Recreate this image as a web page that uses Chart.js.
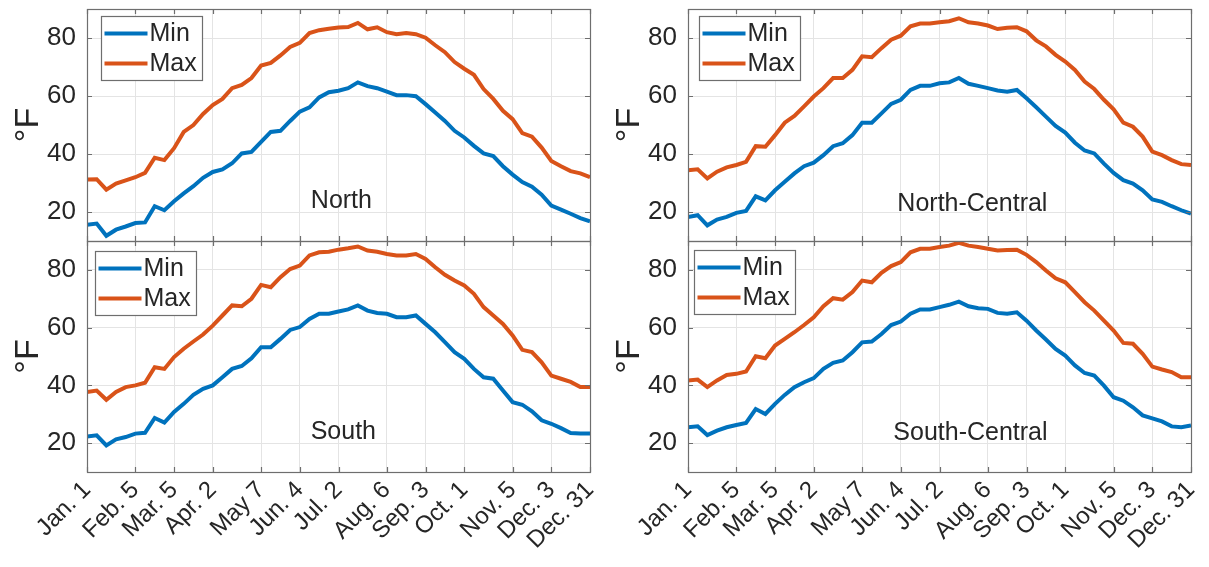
<!DOCTYPE html>
<html>
<head>
<meta charset="utf-8">
<script src="https://cdn.jsdelivr.net/npm/chart.js@4.4.7/dist/chart.umd.min.js"></script>
<style>
  html, body { margin: 0; padding: 0; background: #fff; }
  #wrap { position: relative; width: 1209px; height: 567px; overflow: hidden; }
  .panel { position: absolute; }
</style>
</head>
<body>
<div id="wrap">
  <div class="panel" style="left:0;top:0"><canvas id="cNorth" width="600" height="250"></canvas></div>
  <div class="panel" style="left:601px;top:0"><canvas id="cNorthCentral" width="600" height="250"></canvas></div>
  <div class="panel" style="left:0;top:232px"><canvas id="cSouth" width="600" height="335"></canvas></div>
  <div class="panel" style="left:601px;top:232px"><canvas id="cSouthCentral" width="600" height="335"></canvas></div>
</div>
<script>
// x ticks: week index (0 = Jan. 1, 52 = Dec. 31) and their labels
var tickWeeks = [0, 5, 9, 13, 18, 22, 26, 31, 35, 39, 44, 48, 52];
var tickLabels = ["Jan. 1", "Feb. 5", "Mar. 5", "Apr. 2", "May 7", "Jun. 4", "Jul. 2", "Aug. 6", "Sep. 3", "Oct. 1", "Nov. 5", "Dec. 3", "Dec. 31"];
var yTicks = [20, 40, 60, 80];
var seriesNames = ["Min", "Max"];

// weekly temperatures (°F), 53 weeks
var northMin = [15.6, 16.0, 11.8, 13.9, 15.0, 16.2, 16.4, 22.0, 20.6, 23.7, 26.4, 28.9, 31.8, 33.8, 34.7, 36.8, 40.2, 40.7, 44.2, 47.6, 48.0, 51.4, 54.6, 56.1, 59.5, 61.3, 61.8, 62.7, 64.7, 63.4, 62.7, 61.5, 60.3, 60.3, 59.9, 57.2, 54.3, 51.4, 48.0, 45.7, 42.8, 40.2, 39.3, 35.8, 32.9, 30.3, 28.7, 26.0, 22.2, 20.8, 19.4, 17.9, 16.8];
var northMax = [31.2, 31.3, 27.7, 29.8, 30.9, 32.0, 33.5, 38.7, 37.9, 42.0, 47.6, 50.0, 53.8, 56.9, 59.0, 62.7, 63.8, 66.2, 70.5, 71.4, 74.0, 76.9, 78.3, 81.7, 82.7, 83.2, 83.6, 83.8, 85.2, 83.0, 83.7, 82.0, 81.3, 81.7, 81.3, 80.1, 77.5, 75.1, 71.7, 69.4, 67.3, 62.4, 59.0, 54.9, 52.0, 47.2, 46.0, 42.2, 37.6, 35.8, 34.1, 33.3, 32.0];
var southMin = [22.3, 22.7, 19.2, 21.3, 22.1, 23.3, 23.6, 28.7, 27.1, 30.8, 33.6, 36.7, 38.8, 40.0, 42.8, 45.7, 46.7, 49.4, 53.2, 53.2, 56.1, 59.2, 60.2, 63.0, 64.8, 64.8, 65.6, 66.3, 67.7, 65.9, 65.1, 64.8, 63.6, 63.6, 64.2, 61.3, 58.4, 55.0, 51.5, 49.2, 45.7, 42.8, 42.3, 38.2, 34.2, 33.3, 31.0, 27.9, 26.7, 25.2, 23.5, 23.3, 23.3];
var southMax = [37.7, 38.2, 35.0, 37.7, 39.4, 40.0, 40.9, 46.3, 45.7, 49.8, 52.7, 55.2, 57.6, 60.7, 64.2, 67.7, 67.4, 70.0, 74.8, 74.0, 77.5, 80.3, 81.5, 85.0, 86.1, 86.3, 87.0, 87.5, 88.1, 86.7, 86.3, 85.5, 85.0, 85.0, 85.5, 83.8, 80.9, 78.3, 76.3, 74.6, 71.7, 67.1, 64.2, 61.3, 57.3, 52.3, 51.5, 48.0, 43.4, 42.3, 41.2, 39.4, 39.4];
var northCentralMin = [18.3, 18.9, 15.4, 17.4, 18.3, 19.7, 20.4, 25.4, 24.0, 27.5, 30.4, 33.3, 35.8, 37.0, 39.6, 42.7, 43.7, 46.5, 50.8, 50.8, 54.0, 57.3, 58.7, 62.1, 63.5, 63.5, 64.4, 64.7, 66.2, 64.2, 63.5, 62.7, 61.9, 61.5, 62.1, 59.2, 56.1, 52.9, 49.7, 47.4, 43.9, 41.2, 40.2, 36.7, 33.5, 31.0, 29.8, 27.5, 24.3, 23.5, 22.0, 20.6, 19.4];
var northCentralMax = [34.4, 34.7, 31.6, 33.9, 35.4, 36.2, 37.3, 42.7, 42.5, 46.5, 50.8, 53.1, 56.4, 59.8, 62.7, 66.2, 66.2, 69.0, 73.7, 73.4, 76.5, 79.4, 80.8, 84.0, 85.0, 85.0, 85.4, 85.8, 86.8, 85.4, 85.0, 84.3, 83.1, 83.5, 83.7, 82.3, 79.2, 77.1, 74.2, 71.9, 69.0, 65.0, 62.4, 58.7, 55.4, 50.8, 49.4, 46.0, 40.8, 39.6, 37.9, 36.5, 36.2];
var southCentralMin = [25.5, 25.8, 22.8, 24.3, 25.5, 26.3, 27.0, 31.8, 30.1, 33.6, 36.7, 39.4, 41.1, 42.5, 45.7, 47.8, 48.6, 51.5, 54.9, 55.2, 57.8, 60.9, 62.1, 64.8, 66.3, 66.3, 67.1, 67.9, 69.0, 67.4, 66.7, 66.5, 65.1, 64.8, 65.3, 62.4, 59.0, 55.9, 52.6, 50.3, 46.9, 44.3, 43.4, 39.9, 35.9, 34.7, 32.4, 29.6, 28.6, 27.5, 25.8, 25.5, 26.1];
var southCentralMax = [41.7, 42.0, 39.4, 41.7, 43.6, 44.0, 44.8, 50.1, 49.4, 53.8, 56.1, 58.4, 60.9, 63.6, 67.4, 70.2, 69.7, 72.3, 76.3, 75.7, 79.0, 81.3, 82.7, 86.1, 87.3, 87.3, 87.9, 88.4, 89.4, 88.4, 87.9, 87.3, 86.7, 86.9, 87.0, 85.2, 82.7, 79.8, 77.1, 75.7, 72.3, 68.8, 65.9, 62.4, 59.0, 54.7, 54.4, 50.9, 46.5, 45.5, 44.6, 42.8, 42.8];

var FONT = '"Liberation Sans", Arial, Helvetica, sans-serif';
var TXT = "#262626";
var AXIS = "#6e6e6e";
var GRID = "#e4e4e4";
var BLUE = "#0072BD";
var ORANGE = "#D95319";

function toPoints(arr) {
    return arr.map(function (v, i) { return { x: i, y: v }; });
}

// draws the MATLAB-style box, inward ticks, legend and region label
var overlay = {
    id: "overlay",
    afterDraw: function (chart, args, o) {
        var ctx = chart.ctx, a = chart.chartArea, xs = chart.scales.x, ys = chart.scales.y;
        ctx.save();
        ctx.strokeStyle = AXIS;
        ctx.lineWidth = 1.2;
        ctx.beginPath();
        xs.ticks.forEach(function (t) {
            var px = Math.round(xs.getPixelForValue(t.value)) + 0.5;
            ctx.moveTo(px, a.top); ctx.lineTo(px, a.top + 5);
            ctx.moveTo(px, a.bottom); ctx.lineTo(px, a.bottom - 5);
        });
        ys.ticks.forEach(function (t) {
            var py = Math.round(ys.getPixelForValue(t.value)) + 0.5;
            ctx.moveTo(a.left, py); ctx.lineTo(a.left + 5, py);
            ctx.moveTo(a.right, py); ctx.lineTo(a.right - 5, py);
        });
        ctx.stroke();
        ctx.strokeRect(Math.round(a.left) + 0.5, Math.round(a.top) + 0.5, Math.round(a.right - a.left), Math.round(a.bottom - a.top));

        // region name
        ctx.fillStyle = TXT;
        ctx.font = "25px " + FONT;
        ctx.textAlign = "center";
        ctx.textBaseline = "middle";
        ctx.fillText(o.name, xs.getPixelForValue(o.nameX), ys.getPixelForValue(o.nameY));

        // legend box
        var bx = Math.round(a.left + o.legDx) + 0.5, by = Math.round(a.top + o.legDy) + 0.5;
        ctx.fillStyle = "#fff";
        ctx.fillRect(bx, by, 101, 64);
        ctx.strokeStyle = AXIS;
        ctx.lineWidth = 1.2;
        ctx.strokeRect(bx, by, 101, 64);
        chart.data.datasets.forEach(function (ds, i) {
            var ry = by + 17 + i * 30;
            ctx.strokeStyle = ds.borderColor;
            ctx.lineWidth = 4;
            ctx.beginPath();
            ctx.moveTo(bx + 3, ry); ctx.lineTo(bx + 46, ry);
            ctx.stroke();
            ctx.fillStyle = TXT;
            ctx.textAlign = "left";
            ctx.font = "25px " + FONT;
            ctx.fillText(ds.label, bx + 48, ry + 1);
        });
        ctx.restore();
    }
};

function makePanel(id, minArr, maxArr, bottomRow, o) {
    new Chart(document.getElementById(id), {
        type: "line",
        data: {
            datasets: [
                { label: seriesNames[0], data: toPoints(minArr), borderColor: BLUE, borderWidth: 4, pointRadius: 0, tension: 0, fill: false },
                { label: seriesNames[1], data: toPoints(maxArr), borderColor: ORANGE, borderWidth: 4, pointRadius: 0, tension: 0, fill: false }
            ]
        },
        options: {
            responsive: false,
            animation: false,
            events: [],
            layout: { padding: { left: 0, top: 9, right: 10, bottom: bottomRow ? 0 : 9 } },
            plugins: {
                legend: { display: false },
                tooltip: { enabled: false },
                overlay: o
            },
            scales: {
                x: {
                    type: "linear",
                    min: 0,
                    max: tickWeeks[tickWeeks.length - 1],
                    afterBuildTicks: function (s) {
                        s.ticks = tickWeeks.map(function (w) { return { value: w }; });
                    },
                    afterFit: function (s) {
                        s.height = bottomRow ? 95 : 0;
                        s.paddingLeft = 0;
                        s.paddingRight = 0;
                    },
                    grid: { color: GRID, lineWidth: 1, drawTicks: false },
                    border: { display: false },
                    ticks: {
                        display: bottomRow,
                        autoSkip: false,
                        minRotation: 45,
                        maxRotation: 45,
                        padding: 4,
                        color: TXT,
                        font: { family: FONT, size: 24 },
                        callback: function (v) {
                            var k = tickWeeks.indexOf(v);
                            return k >= 0 ? tickLabels[k] : "";
                        }
                    }
                },
                y: {
                    min: 10,
                    max: 90,
                    afterBuildTicks: function (s) {
                        s.ticks = yTicks.map(function (v) { return { value: v }; });
                    },
                    afterFit: function (s) {
                        s.width = 87;
                        s.paddingTop = 0;
                        s.paddingBottom = 0;
                    },
                    grid: { color: GRID, lineWidth: 1, drawTicks: false },
                    border: { display: false },
                    ticks: { padding: 11, color: TXT, font: { family: FONT, size: 26 } },
                    title: {
                        display: true,
                        text: "°F",
                        color: TXT,
                        font: { family: FONT, size: 34 },
                        padding: { top: 8, bottom: 0 }
                    }
                }
            }
        },
        plugins: [overlay]
    });
}

makePanel("cNorth", northMin, northMax, false, { name: "North", nameX: 26.3, nameY: 23.8, legDx: 14, legDy: 7 });
makePanel("cNorthCentral", northCentralMin, northCentralMax, false, { name: "North-Central", nameX: 29.4, nameY: 22.8, legDx: 11, legDy: 7 });
makePanel("cSouth", southMin, southMax, true, { name: "South", nameX: 26.5, nameY: 23.9, legDx: 8, legDy: 10 });
makePanel("cSouthCentral", southCentralMin, southCentralMax, true, { name: "South-Central", nameX: 29.2, nameY: 23.5, legDx: 6, legDy: 9 });
</script>
</body>
</html>
